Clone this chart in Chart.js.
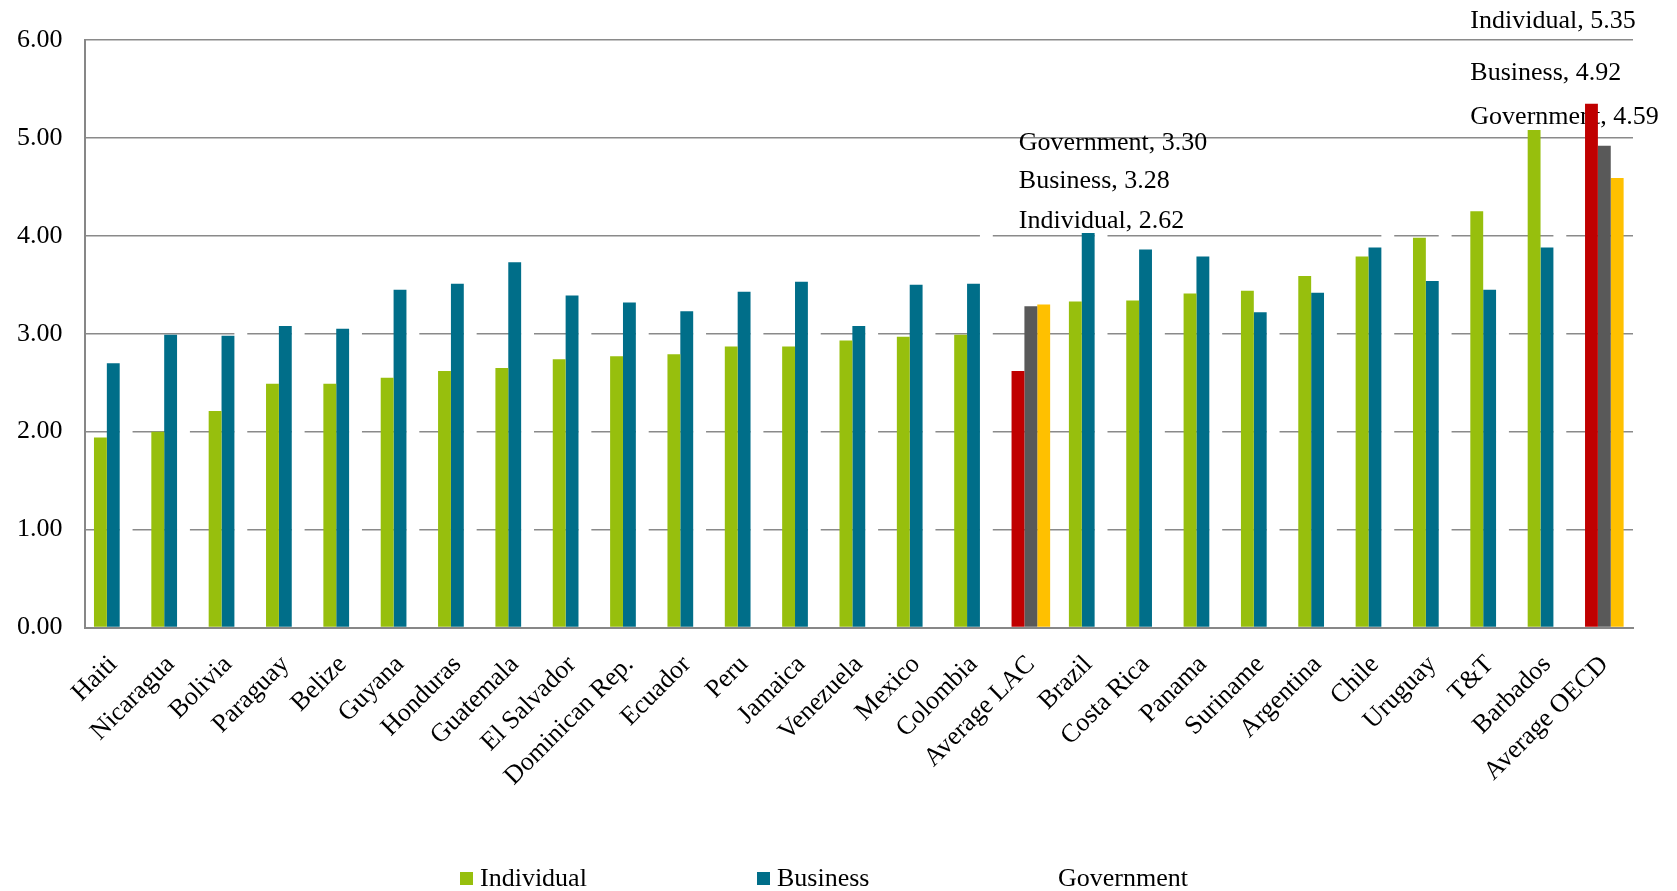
<!DOCTYPE html>
<html>
<head>
<meta charset="utf-8">
<script src="https://cdn.jsdelivr.net/npm/chart.js@4.4.1/dist/chart.umd.min.js"></script>
<style>
  html, body { margin: 0; padding: 0; background: #fff; }
  #wrap { width: 1677px; height: 891px; position: relative; }
</style>
</head>
<body>
<div id="wrap"><canvas id="chart"></canvas></div>
<script>
// categories and values
const categories = ['Haiti', 'Nicaragua', 'Bolivia', 'Paraguay', 'Belize', 'Guyana', 'Honduras',
    'Guatemala', 'El Salvador', 'Dominican Rep.', 'Ecuador', 'Peru', 'Jamaica', 'Venezuela',
    'Mexico', 'Colombia', 'Average LAC', 'Brazil', 'Costa Rica', 'Panama', 'Suriname',
    'Argentina', 'Chile', 'Uruguay', 'T&T', 'Barbados', 'Average OECD'];
const individual = [1.94, 2.00, 2.21, 2.49, 2.49, 2.55, 2.62, 2.65, 2.74, 2.77, 2.79, 2.87, 2.87,
    2.93, 2.97, 2.99, 2.62, 3.33, 3.34, 3.41, 3.44, 3.59, 3.79, 3.98, 4.25, 5.08, 5.35];
const business = [2.70, 2.99, 2.98, 3.08, 3.05, 3.45, 3.51, 3.73, 3.39, 3.32, 3.23, 3.43, 3.53,
    3.08, 3.50, 3.51, 3.28, 4.03, 3.86, 3.79, 3.22, 3.42, 3.88, 3.54, 3.45, 3.88, 4.92];
// government bars for the countries are white in the source (only visible as gaps in the gridlines)
const government = [2.5, 2.6, 3.2, 3.3, 3.4, 3.5, 3.4, 3.6, 3.5, 3.6, 3.4, 3.6, 3.7,
    3.2, 3.8, 4.2, 3.30, 4.04, 3.6, 3.7, 3.3, 3.5, 4.3, 4.2, 3.8, 4.4, 4.59];
const yTicks = [0, 1, 2, 3, 4, 5, 6];

const GREEN = '#97bf0d', TEAL = '#006e89', RED = '#c00000', GRAY = '#595959', YELLOW = '#ffc000';
const isAvg = c => c.indexOf('Average') === 0;
const FONT = "'Liberation Serif', 'Times New Roman', serif";

// labels next to the two averages (value labels moved above the bars)
const callouts = [
    { cat: 'Average LAC', text: 'Government, 3.30', dx: -12, at: 4.95 },
    { cat: 'Average LAC', text: 'Business, 3.28', dx: -12, at: 4.56 },
    { cat: 'Average LAC', text: 'Individual, 2.62', dx: -12, at: 4.15 },
    { cat: 'Average OECD', text: 'Individual, 5.35', dx: -134, at: 6.19 },
    { cat: 'Average OECD', text: 'Business, 4.92', dx: -134, at: 5.66 },
    { cat: 'Average OECD', text: 'Government, 4.59', dx: -134, at: 5.21 }
];

const calloutPlugin = {
    id: 'callouts',
    beforeDatasetsDraw(chart) {
        const ctx = chart.ctx, x = chart.scales.x, y = chart.scales.y;
        ctx.save();
        ctx.font = '26px ' + FONT;
        ctx.fillStyle = '#000';
        ctx.textAlign = 'left';
        ctx.textBaseline = 'middle';
        callouts.forEach(c => {
            const px = x.getPixelForValue(categories.indexOf(c.cat)) + c.dx;
            ctx.fillText(c.text, px, y.getPixelForValue(c.at));
        });
        ctx.restore();
    }
};

// legend drawn by hand: Government keeps its white box, as in the source
const legendPlugin = {
    id: 'bottomLegend',
    afterDraw(chart) {
        const ctx = chart.ctx;
        const items = [
            { label: 'Individual', color: GREEN, x: 460 },
            { label: 'Business', color: TEAL, x: 757 },
            { label: 'Government', color: '#ffffff', x: 1038 }
        ];
        ctx.save();
        ctx.font = '26px ' + FONT;
        ctx.textBaseline = 'middle';
        items.forEach(it => {
            ctx.fillStyle = it.color;
            ctx.fillRect(it.x, 872, 13, 13);
            ctx.fillStyle = '#000';
            ctx.fillText(it.label, it.x + 20, 879);
        });
        ctx.restore();
    }
};

new Chart(document.getElementById('chart'), {
    type: 'bar',
    data: {
        labels: categories,
        datasets: [{
            label: 'Individual',
            data: individual,
            backgroundColor: categories.map(c => isAvg(c) ? RED : GREEN)
        }, {
            label: 'Business',
            data: business,
            backgroundColor: categories.map(c => isAvg(c) ? GRAY : TEAL)
        }, {
            label: 'Government',
            data: government,
            backgroundColor: categories.map(c => isAvg(c) ? YELLOW : '#ffffff')
        }]
    },
    options: {
        responsive: true,
        maintainAspectRatio: false,
        animation: false,
        datasets: {
            bar: { categoryPercentage: 0.673, barPercentage: 1.0 }
        },
        layout: { padding: { left: 0, right: 44, top: 40, bottom: 0 } },
        plugins: {
            legend: { display: false },
            tooltip: { enabled: false }
        },
        scales: {
            x: {
                grid: { display: false },
                border: { display: true, color: '#878787', width: 2 },
                ticks: {
                    color: '#000',
                    font: { family: FONT, size: 26 },
                    minRotation: 45,
                    maxRotation: 45,
                    padding: 14
                },
                afterFit: scale => { scale.height = 891 - 627.5; }
            },
            y: {
                min: 0,
                max: 6,
                afterBuildTicks: scale => { scale.ticks = yTicks.map(v => ({ value: v })); },
                grid: { color: '#8a8a8a', lineWidth: 1.6, drawTicks: false },
                border: { display: true, color: '#878787', width: 2 },
                ticks: {
                    color: '#000',
                    font: { family: FONT, size: 26 },
                    padding: 22,
                    callback: v => v.toFixed(2)
                },
                afterFit: scale => { scale.width = 84.6; }
            }
        }
    },
    plugins: [calloutPlugin, legendPlugin]
});
</script>
</body>
</html>
